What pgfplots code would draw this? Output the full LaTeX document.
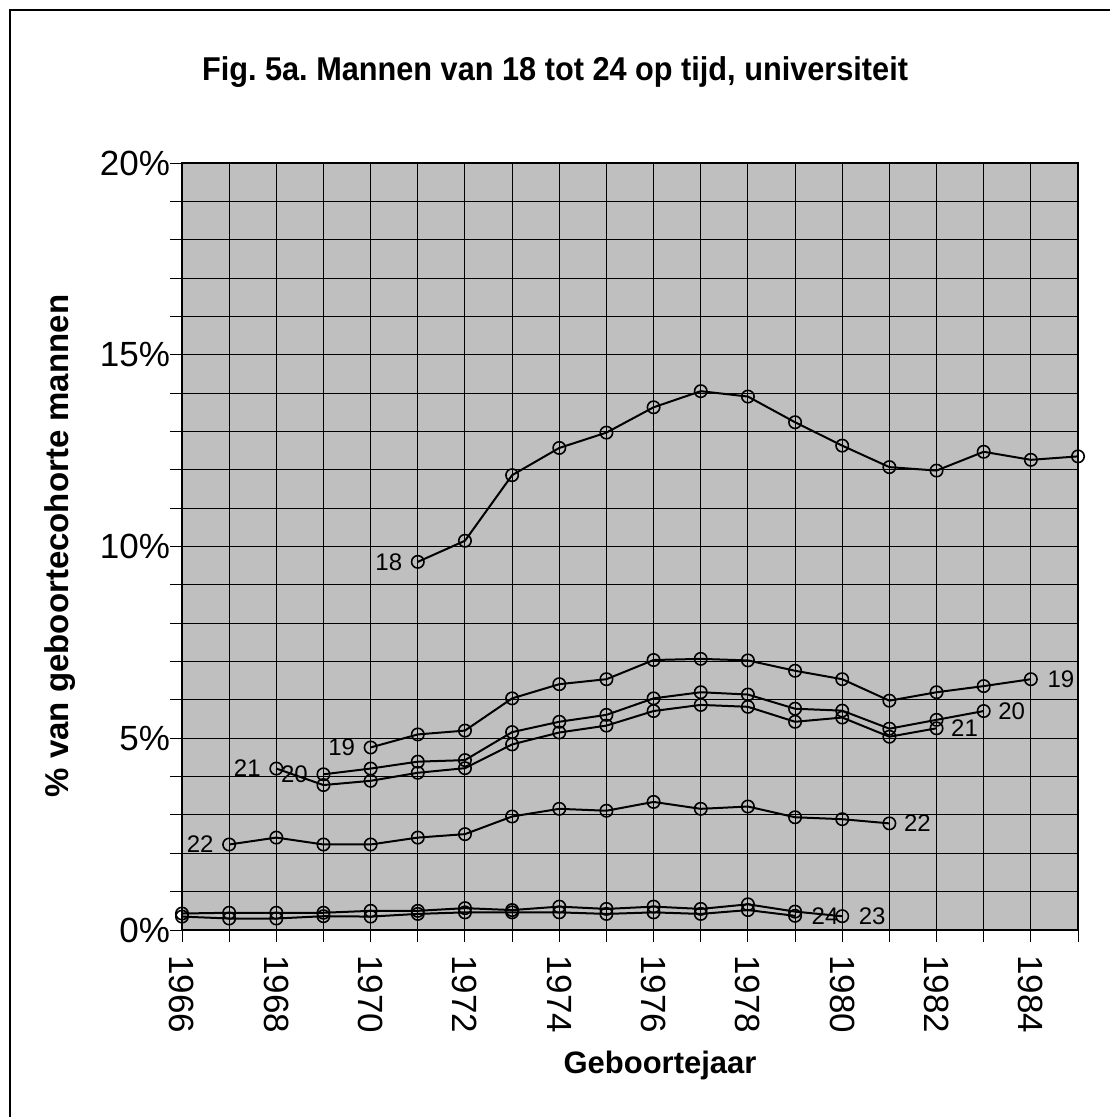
\documentclass[border=0pt]{standalone}
\usepackage{pgfplots}
\pgfplotsset{compat=1.18}
\usepackage{fontspec}
\setmainfont{Liberation Sans}
\frenchspacing
\begin{document}
\begin{tikzpicture}
\useasboundingbox (0,0) rectangle (554.5pt,-558.5pt);
\fill[white] (0,0) rectangle (554.5pt,-558.5pt);
\draw[black, line width=0.6pt] (5pt,-600pt) -- (5pt,-5pt) -- (600pt,-5pt);
\node[font=\fontsize{16.5}{19}\selectfont\bfseries, xscale=0.93] at (277.5pt,-36pt) {Fig. 5a. Mannen van 18 tot 24 op tijd, universiteit};
\node[font=\fontsize{15.5}{19}\selectfont\bfseries] at (330pt,-532.5pt) {Geboortejaar};
\node[font=\fontsize{16.5}{19}\selectfont\bfseries, rotate=90] at (30pt,-273pt) {\% van geboortecohorte mannen};
\begin{axis}[
  at={(91pt,-465pt)}, anchor=south west,
  scale only axis, width=448pt, height=383.5pt,
  xmin=1966, xmax=1985, ymin=0, ymax=20,
  clip=false,
  axis background/.style={fill=black!25},
  axis line style={black, line width=0.6pt},
  xtick={1966,1968,...,1984},
  minor xtick={1967,1969,...,1985},
  ytick={0,5,10,15,20},
  yticklabels={0\%,5\%,10\%,15\%,20\%},
  minor ytick={1,2,3,4,6,7,8,9,11,12,13,14,16,17,18,19},
  grid=both,
  major grid style={black, line width=0.5pt},
  minor grid style={black, line width=0.5pt},
  tick align=outside,
  major tick length=6pt, minor tick length=6pt,
  tick style={black, line width=0.5pt},
  ytick pos=left, xtick pos=bottom,
  /pgf/number format/assume math mode=true,
  xticklabel={\pgfmathprintnumber[1000 sep={}]{\tick}},
  tick label style={font=\fontsize{17.5}{20}\selectfont},
  yticklabel style={xshift=3.5pt},
  xticklabel style={rotate=-90, anchor=west, xshift=3pt},
  ser/.style={black, solid, line width=1pt, mark=o, mark size=3.1pt, mark options={solid, line width=0.8pt, fill=none}},
]
% 18
\addplot[ser] coordinates {(1971,9.60) (1972,10.15) (1973,11.86) (1974,12.57) (1975,12.97) (1976,13.63) (1977,14.05) (1978,13.91) (1979,13.24) (1980,12.63) (1981,12.07) (1982,11.98) (1983,12.47) (1984,12.26) (1985,12.35)};
% 19
\addplot[ser] coordinates {(1970,4.76) (1971,5.10) (1972,5.20) (1973,6.04) (1974,6.41) (1975,6.54) (1976,7.04) (1977,7.07) (1978,7.03) (1979,6.76) (1980,6.54) (1981,5.98) (1982,6.20) (1983,6.36) (1984,6.54)};
% 20
\addplot[ser] coordinates {(1969,4.06) (1970,4.21) (1971,4.39) (1972,4.43) (1973,5.16) (1974,5.43) (1975,5.61) (1976,6.04) (1977,6.20) (1978,6.14) (1979,5.77) (1980,5.72) (1981,5.25) (1982,5.48) (1983,5.71)};
% 21
\addplot[ser] coordinates {(1968,4.21) (1969,3.78) (1970,3.89) (1971,4.10) (1972,4.22) (1973,4.84) (1974,5.15) (1975,5.33) (1976,5.71) (1977,5.87) (1978,5.82) (1979,5.43) (1980,5.54) (1981,5.04) (1982,5.26)};
% 22
\addplot[ser] coordinates {(1967,2.23) (1968,2.41) (1969,2.23) (1970,2.23) (1971,2.41) (1972,2.50) (1973,2.96) (1974,3.16) (1975,3.11) (1976,3.34) (1977,3.16) (1978,3.22) (1979,2.94) (1980,2.89) (1981,2.78)};
% 23
\addplot[ser] coordinates {(1966,0.43) (1967,0.45) (1968,0.45) (1969,0.45) (1970,0.50) (1971,0.50) (1972,0.57) (1973,0.52) (1974,0.61) (1975,0.55) (1976,0.61) (1977,0.55) (1978,0.67) (1979,0.48) (1980,0.36)};
% 24
\addplot[ser] coordinates {(1966,0.35) (1967,0.30) (1968,0.30) (1969,0.36) (1970,0.35) (1971,0.42) (1972,0.46) (1973,0.46) (1974,0.46) (1975,0.42) (1976,0.46) (1977,0.42) (1978,0.52) (1979,0.37)};
\begin{scope}[every node/.style={font=\fontsize{12}{14}\selectfont, inner sep=0pt}]
\node[xshift=-14.5pt] at (axis cs:1971,9.60) {18};
\node[xshift=-14.5pt] at (axis cs:1970,4.76) {19};
\node[xshift=-14.5pt] at (axis cs:1969,4.06) {20};
\node[xshift=-14.5pt] at (axis cs:1968,4.21) {21};
\node[xshift=-14.5pt] at (axis cs:1967,2.23) {22};
\node[xshift=15pt] at (axis cs:1984,6.54) {19};
\node[xshift=14pt] at (axis cs:1983,5.71) {20};
\node[xshift=14pt] at (axis cs:1982,5.26) {21};
\node[xshift=14pt] at (axis cs:1981,2.78) {22};
\node[xshift=15pt] at (axis cs:1980,0.36) {23};
\node[xshift=15pt] at (axis cs:1979,0.37) {24};
\end{scope}
\end{axis}
\end{tikzpicture}
\end{document}
